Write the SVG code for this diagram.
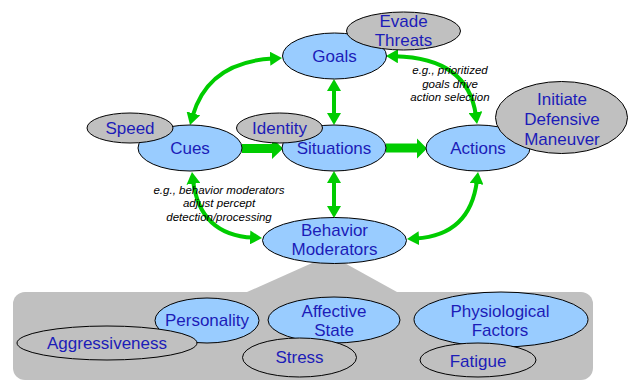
<svg xmlns="http://www.w3.org/2000/svg" width="631" height="381" viewBox="0 0 631 381">
<style>
.n{fill:#99ccff;stroke:#000;stroke-width:1}
.g{fill:#c0c0c0;stroke:#000;stroke-width:1}
.t{font-family:"Liberation Sans",Arial,sans-serif;font-size:17px;fill:#1c1cb8;text-anchor:middle}
.a{font-family:"Liberation Sans",Arial,sans-serif;font-size:11.5px;font-style:italic;fill:#000;text-anchor:middle}
.c{fill:none;stroke:#00cc00;stroke-width:4}
.th{fill:#00cc00}
</style>
<defs>
<marker id="ah" viewBox="0 0 12 14" markerWidth="12" markerHeight="14" refX="3" refY="7" markerUnits="userSpaceOnUse" orient="auto-start-reverse">
<path d="M0,0 L12,7 L0,14 z" fill="#00cc00"/>
</marker>
</defs>
<g id="panel">
<rect x="13" y="292" width="580" height="88" rx="12" fill="#c0c0c0"/>
<polygon points="247,292 330,255 397,292" fill="#c0c0c0"/>
</g>
<g id="connectors">
<path class="c" d="M334 88 L334 116" marker-start="url(#ah)" marker-end="url(#ah)"/>
<path class="c" d="M334 180 L334 209" marker-start="url(#ah)" marker-end="url(#ah)"/>
<path class="c" d="M273 58.5 Q208 62 192.5 116.3" marker-start="url(#ah)" marker-end="url(#ah)"/>
<path class="c" d="M395 56.2 Q468 58 475.8 115.1" marker-start="url(#ah)" marker-end="url(#ah)"/>
<path class="c" d="M193.1 180.9 Q200 235 253 237.6" marker-start="url(#ah)" marker-end="url(#ah)"/>
<path class="c" d="M476.9 180.9 Q470 235 416 238.4" marker-start="url(#ah)" marker-end="url(#ah)"/>
<path class="th" d="M242 144 L272 144 L272 138 L283 148.5 L272 159 L272 153 L242 153 z"/>
<path class="th" d="M386 143.5 L417 143.5 L417 138.5 L427 148.5 L417 158.5 L417 152.5 L386 152.5 z"/>
<text class="a" x="450" y="74">e.g., prioritized</text>
<text class="a" x="450" y="88">goals drive</text>
<text class="a" x="450" y="101">action selection</text>
<text class="a" x="219" y="194">e.g., behavior moderators</text>
<text class="a" x="219" y="207">adjust percept</text>
<text class="a" x="219" y="221">detection/processing</text>
</g>
<g id="goals"><ellipse class="n" cx="334.5" cy="56" rx="52" ry="23"/><text class="t" x="334.5" y="62">Goals</text></g>
<g id="evade"><ellipse class="g" cx="403.5" cy="31" rx="57" ry="19"/><text class="t" x="403.5" y="27">Evade</text><text class="t" x="403.5" y="46">Threats</text></g>
<g id="cues"><ellipse class="n" cx="190" cy="148" rx="52" ry="23"/><text class="t" x="190" y="154">Cues</text></g>
<g id="speed"><ellipse class="g" cx="130" cy="128" rx="43" ry="15"/><text class="t" x="130" y="134">Speed</text></g>
<g id="situations"><ellipse class="n" cx="334" cy="148" rx="52" ry="23"/><text class="t" x="334" y="154">Situations</text></g>
<g id="identity"><ellipse class="g" cx="279.5" cy="128" rx="43" ry="15"/><text class="t" x="279.5" y="134">Identity</text></g>
<g id="actions"><ellipse class="n" cx="478" cy="148" rx="52" ry="23"/><text class="t" x="478" y="154">Actions</text></g>
<g id="initiate"><ellipse class="g" cx="561.5" cy="117.5" rx="66" ry="36"/><text class="t" x="562" y="105">Initiate</text><text class="t" x="562" y="125">Defensive</text><text class="t" x="562" y="145">Maneuver</text></g>
<g id="moderators"><ellipse class="n" cx="334.5" cy="240.5" rx="72" ry="23"/><text class="t" x="334.5" y="236">Behavior</text><text class="t" x="334.5" y="255">Moderators</text></g>
<g id="personality"><ellipse class="n" cx="207" cy="320.5" rx="52" ry="22.5"/><text class="t" x="207" y="326">Personality</text></g>
<g id="aggressiveness"><ellipse class="g" cx="107" cy="343" rx="90" ry="17"/><text class="t" x="107" y="349">Aggressiveness</text></g>
<g id="affective"><ellipse class="n" cx="334" cy="320" rx="66" ry="23"/><text class="t" x="334" y="317">Affective</text><text class="t" x="334" y="336">State</text></g>
<g id="stress"><ellipse class="g" cx="299.5" cy="357.5" rx="57" ry="19.5"/><text class="t" x="299.5" y="363">Stress</text></g>
<g id="physiological"><ellipse class="n" cx="501" cy="319.5" rx="87" ry="27.5"/><text class="t" x="500" y="317">Physiological</text><text class="t" x="500" y="336">Factors</text></g>
<g id="fatigue"><ellipse class="g" cx="478" cy="360" rx="58" ry="17"/><text class="t" x="478" y="367">Fatigue</text></g>
</svg>
